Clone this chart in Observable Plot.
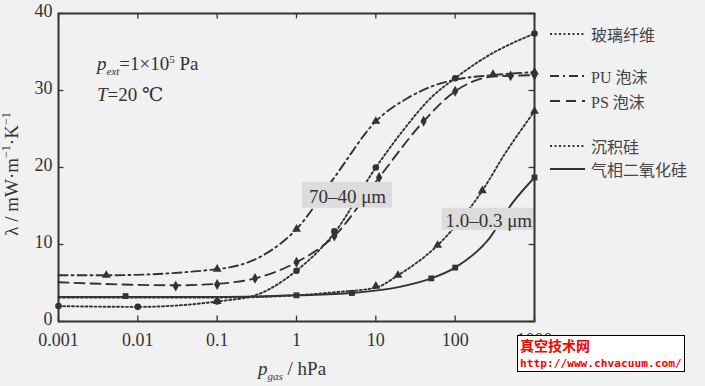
<!DOCTYPE html>
<html><head><meta charset="utf-8">
<script src="https://cdn.jsdelivr.net/npm/d3@7"></script>
<script src="https://cdn.jsdelivr.net/npm/@observablehq/plot@0.6"></script>
<style>
html,body{margin:0;padding:0;background:#f1f1f1;}
#wrap{position:relative;width:705px;height:386px;overflow:hidden;background:#f1f1f1;font-family:"Liberation Serif","Times New Roman",Times,"DejaVu Serif",serif;color:#333;}
#wrap > svg{position:absolute;left:0;top:0;}
.ov{position:absolute;white-space:nowrap;}
.leg{position:absolute;left:550px;font-family:"Liberation Serif","Times New Roman","Noto Sans CJK SC",serif;font-size:16px;color:#444;display:flex;align-items:center;}
.leg svg{margin-right:5px;}
</style></head>
<body><div id="wrap"></div>
<script>
// ---- data (pressure hPa, lambda mW/m/K) ----
const xTicks = [0.001, 0.01, 0.1, 1, 10, 100, 1000];
const yTicks = [0, 10, 20, 30, 40];
const seriesNames = ["玻璃纤维", "PU 泡沫", "PS 泡沫", "沉积硅", "气相二氧化硅"];

const glassFiber = [[0.001,2.0],[0.01,1.9],[0.1,2.6],[0.3,3.4],[1,6.6],[3,11.5],[10,20.0],[22,24.8],[50,29.1],[100,31.6],[240,34.3],[1000,37.4]];
const glassFiberMarks = [[0.001,2.0],[0.01,1.9],[0.1,2.6],[1,6.6],[3,11.7],[10,20.0],[100,31.6],[1000,37.4]];

const puFoam = [[0.001,6.0],[0.004,6.0],[0.1,6.8],[0.38,8.6],[1,12.0],[3,18.7],[10,26.0],[25,29.0],[60,30.8],[100,31.4],[300,32.0],[1000,32.4]];
const puFoamMarks = [[0.004,6.0],[0.1,6.8],[1,12.0],[10,26.0],[300,32.1],[1000,32.4]];

const psFoam = [[0.001,5.1],[0.03,4.7],[0.1,4.9],[0.3,5.6],[1,7.7],[3,11.1],[11,18.7],[40,26.0],[100,29.9],[300,31.8],[1000,32.0]];
const psFoamMarks = [[0.03,4.6],[0.1,4.8],[0.3,5.6],[1,7.7],[3,11.1],[11,18.7],[40,26.0],[100,29.9],[500,31.9],[1000,32.0]];

const sedSilica = [[0.001,3.1],[0.01,3.1],[0.1,3.1],[1,3.4],[3,3.8],[10,4.4],[19,6.0],[60,9.9],[220,17.0],[425,21.8],[1000,27.3]];
const sedSilicaMarks = [[0.1,2.6],[10,4.6],[19,6.0],[60,9.9],[220,17.0],[1000,27.3]];

const fumedSilica = [[0.001,3.2],[0.007,3.2],[0.1,3.2],[1,3.4],[5,3.7],[20,4.5],[50,5.6],[100,7.0],[270,10.8],[520,15.3],[1000,18.7]];
const fumedSilicaMarks = [[0.007,3.3],[1,3.4],[5,3.7],[50,5.6],[100,7.0],[1000,18.7]];

const annotations = [
  {label:"70–40 μm", x1:1.19, x2:16.3, y1:14.7, y2:18.05, tx:4.4, ty:16.2},
  {label:"1.0–0.3 μm", x1:69, x2:1000, y1:11.8, y2:14.7, tx:265, ty:13.1}
];

// ---- styles ----
const ink = "#333";
const serif = "Liberation Serif, Times New Roman, Times, DejaVu Serif, serif";
const seriesStyle = [
  {data: glassFiber, marks: glassFiberMarks, dash:"2,2.5", symbol:"circle"},
  {data: puFoam, marks: puFoamMarks, dash:"9,4,2,4", symbol:"triangle"},
  {data: psFoam, marks: psFoamMarks, dash:"10,6", symbol:"diamond"},
  {data: sedSilica, marks: sedSilicaMarks, dash:"2,2.5", symbol:"triangle"},
  {data: fumedSilica, marks: fumedSilicaMarks, dash:null, symbol:"square"}
];

const marks = [
  Plot.axisX({ticks:xTicks, tickFormat:d=>String(d), tickSize:0, tickPadding:12, label:null, fontSize:18}),
  Plot.axisY({ticks:yTicks, tickSize:0, tickPadding:6, label:null, fontSize:18, dy:-2}),
  // inward ticks
  Plot.ruleX(xTicks, {y1:0, y2:0.7, stroke:ink, strokeWidth:1.3}),
  Plot.ruleX(xTicks, {y1:39.3, y2:40, stroke:ink, strokeWidth:1.3}),
  Plot.ruleY(yTicks, {x1:0.001, x2:0.001*1.17, stroke:ink, strokeWidth:1.3}),
  Plot.ruleY(yTicks, {x1:1000/1.17, x2:1000, stroke:ink, strokeWidth:1.3})
];
for (const s of seriesStyle) {
  marks.push(Plot.line(s.data, {x:d=>d[0], y:d=>d[1], curve:"monotone-x", stroke:ink, strokeWidth:1.9, strokeDasharray:s.dash ?? undefined}));
  marks.push(Plot.dot(s.marks, {x:d=>d[0], y:d=>d[1], symbol:()=>s.symbol, r:3.3, fill:ink, stroke:"none"}));
}
marks.push(
  Plot.rect(annotations, {x1:"x1", x2:"x2", y1:"y1", y2:"y2", fill:"#dcdcdc"}),
  Plot.text(annotations, {x:"tx", y:"ty", text:"label", fontSize:19, fill:"#333", fontFamily:serif}),
  Plot.frame({stroke:ink, strokeWidth:2})
);

const chart = Plot.plot({
  width:705, height:386,
  marginLeft:58, marginRight:171, marginTop:13, marginBottom:65,
  style:{background:"transparent", fontFamily:serif, fontSize:"18px", color:"#333"},
  x:{type:"log", domain:[0.001,1000]},
  y:{domain:[0,40]},
  symbol:{type:"identity"},
  marks
});
const wrap = document.getElementById("wrap");
wrap.appendChild(chart);

// ---- overlays: parameter text, axis labels, legend, watermark ----
function add(html, css){const d=document.createElement("div");d.className="ov";d.innerHTML=html;Object.assign(d.style,css);wrap.appendChild(d);return d;}
add('<i>p</i><sub style="font-size:11px;font-style:italic">ext</sub>=1×10<sup style="font-size:11px">5</sup> Pa',{left:"97px",top:"53px",fontSize:"19px"});
add('<i>T</i>=20 ℃',{left:"97px",top:"83px",fontSize:"19px"});
add('<i>p</i><sub style="font-size:11px;font-style:italic">gas</sub> / hPa',{left:"258px",top:"358px",fontSize:"19px"});
add('λ / mW·m<sup style="font-size:12px">−1</sup>·K<sup style="font-size:12px">−1</sup>',{left:"11px",top:"174px",fontSize:"19px",transform:"translate(-50%,-50%) rotate(-90deg)"});

const legendY = [33, 75, 100, 145, 168];
seriesNames.forEach((name,i)=>{
  const s = seriesStyle[i];
  const d = document.createElement("div"); d.className="leg"; d.style.top=(legendY[i]-11)+"px";
  d.innerHTML = `<svg width="36" height="10"><line x1="0" x2="35" y1="5" y2="5" stroke="${ink}" stroke-width="1.8" ${s.dash?`stroke-dasharray="${s.dash}"`:""}/></svg><span>${name}</span>`;
  wrap.appendChild(d);
});

add('<span style="font-family:\'Noto Sans CJK SC\',sans-serif;font-size:14px">真空技术网</span><br>http://www.chvacuum.com/',{left:"517px",top:"335px",width:"162px",height:"33px",background:"#fff",border:"1.5px solid #000",color:"#f00",fontFamily:"DejaVu Sans Mono, monospace",fontSize:"11.2px",lineHeight:"16px",fontWeight:"bold",padding:"1px 2px",overflow:"hidden"});
</script></body></html>
